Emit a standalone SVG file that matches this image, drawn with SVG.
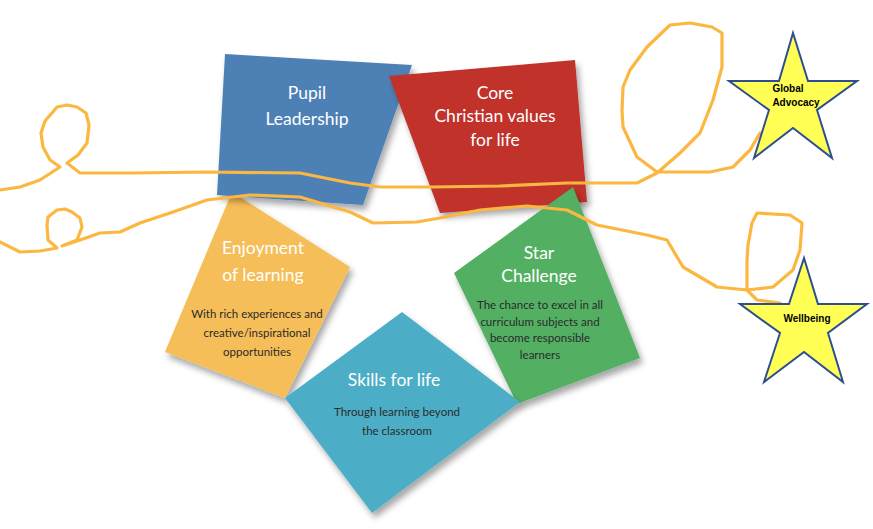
<svg xmlns="http://www.w3.org/2000/svg" width="873" height="529" viewBox="0 0 873 529">
<defs>
<filter id="sh" x="-20%" y="-20%" width="150%" height="150%">
<feDropShadow dx="3" dy="5" stdDeviation="3" flood-color="#000" flood-opacity="0.35"/>
</filter>
<style>
.t{font-family:Lato,"Open Sans",sans-serif;fill:#fff;font-size:17.5px;text-anchor:middle}
.s{font-family:Lato,"Open Sans",sans-serif;fill:#2b2b2b;font-size:11.5px;text-anchor:middle}
.star{fill:#FFFF55;stroke:#2E4F8F;stroke-width:2;stroke-linejoin:miter}
.st{font-family:"Liberation Sans",Arial,sans-serif;font-weight:bold;font-size:10px;fill:#000;text-anchor:middle}
.sq{fill:none;stroke:#FBB740;stroke-width:3.2;stroke-linejoin:round;stroke-linecap:round}
</style>
</defs>
<rect width="873" height="529" fill="#fff"/>

<g id="enjoyment">
<polygon points="232,192 350,267 285,398 165,352" fill="#F6BE58" filter="url(#sh)"/>
<text class="t" x="263" y="254">Enjoyment</text>
<text class="t" x="263" y="281">of learning</text>
<text class="s" x="257" y="318">With rich experiences and</text>
<text class="s" x="257" y="337">creative/inspirational</text>
<text class="s" x="257" y="356">opportunities</text>
</g>

<g id="pupil-leadership">
<polygon points="225,54 412,65 363,205 217,195" fill="#4E81B6" filter="url(#sh)"/>
<text class="t" x="307" y="99">Pupil</text>
<text class="t" x="307" y="125">Leadership</text>
</g>

<g id="core-values">
<polygon points="389,76 575,60 587,202 440,213" fill="#C0312B" filter="url(#sh)"/>
<text class="t" x="495" y="99">Core</text>
<text class="t" x="495" y="122">Christian values</text>
<text class="t" x="495" y="146">for life</text>
</g>

<g id="star-challenge">
<polygon points="573,187 640,358 517,404 454,273" fill="#53B063" filter="url(#sh)"/>
<text class="t" x="539" y="259">Star</text>
<text class="t" x="539" y="282">Challenge</text>
<text class="s" x="540" y="309">The chance to excel in all</text>
<text class="s" x="540" y="326">curriculum subjects and</text>
<text class="s" x="540" y="342">become responsible</text>
<text class="s" x="540" y="359">learners</text>
</g>

<g id="skills">
<polygon points="402,312 520,402 372,513 285,398" fill="#4BAEC6" filter="url(#sh)"/>
<text class="t" x="394" y="386">Skills for life</text>
<text class="s" x="397" y="416">Through learning beyond</text>
<text class="s" x="397" y="435">the classroom</text>
</g>

<g id="connectors">
<path class="sq" d="M0,190 L20,187 L40,180 L60,167 L50,160 L43,147 L41,133 L45,121 L52,113 L57,107 L67,105 L77,107 L86,113 L89,125 L87,143 L78,155 L67,163 L80,173 L133,173 L207,172 L300,173 L350,183 L380,187 L433,187 L500,186 L567,183 L637,183 L657,173 L680,153 L700,133 L713,100 L722,67 L722,33 L712,27 L690,23 L670,25 L647,47 L630,70 L623,87 L622,110 L623,127 L637,157 L657,172 L710,172 L733,167 L750,150 L760,133"/>
<path class="sq" d="M0,242 L20,252 L40,251 L57,248 L48,240 L47,225 L48,217 L57,210 L65,209 L72,212 L80,218 L82,227 L77,240 L62,246 L80,240 L100,233 L120,232 L140,223 L173,212 L207,200 L250,195 L300,197 L350,212 L373,223 L417,222 L440,218 L480,210 L527,206 L567,210 L597,225 L647,235 L667,240 L683,267 L717,287 L747,290 L773,287 L793,270 L800,250 L802,223 L790,215 L757,213 L752,223 L748,245 L747,260 L747,290 L757,300 L780,303"/>
</g>

<g id="global-advocacy">
<polygon class="star" points="793,33 808,81 857,81 817,110 832,158 793,128 754,158 769,110 729,81 779,81"/>
<text class="st" x="788" y="92">Global</text>
<text class="st" x="796" y="106">Advocacy</text>
</g>

<g id="wellbeing">
<polygon class="star" points="804,258 818,304 867,304 828,333 843,382 804,352 764,382 780,333 740,304 789,304"/>
<text class="st" x="807" y="322">Wellbeing</text>
</g>
</svg>
